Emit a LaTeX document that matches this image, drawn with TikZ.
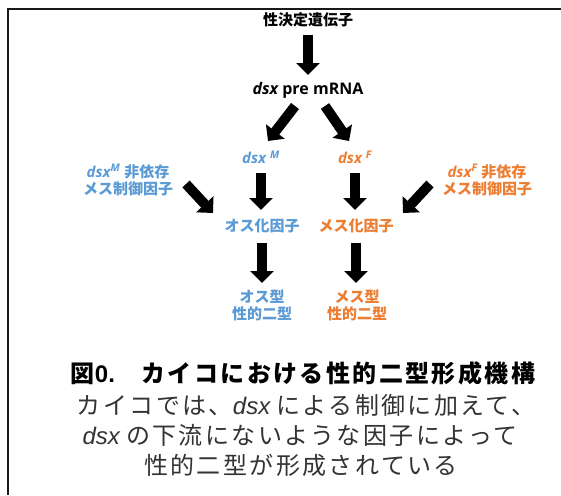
\documentclass[tikz,border=0pt]{standalone}
\usepackage{fontspec}
\usetikzlibrary{arrows.meta}
\setmainfont{Open Sans}
\newfontfamily\jpfont{Noto Sans CJK JP}
\newfontfamily\capfont[LetterSpace=10]{Noto Sans CJK JP}
\newfontfamily\arialfont{Liberation Sans}
\definecolor{mblue}{HTML}{5B9BD5}
\definecolor{forange}{HTML}{ED7D31}
\definecolor{capgray}{HTML}{333333}
\newcommand{\JB}[1]{{\jpfont\bfseries #1}}
\newcommand{\dsxit}{{\bfseries\itshape dsx}}
\newcommand{\CJ}[1]{{\capfont #1}}
\newcommand{\CA}[1]{{\arialfont\itshape #1}}
\tikzset{
  blk/.style={line width=10pt, draw=black, -{Triangle[length=12pt,width=23pt]}},
  lbl/.style={inner sep=0pt, font=\fontsize{15}{17}\selectfont, align=center},
  capline/.style={inner sep=0pt, font=\fontsize{24}{30}\selectfont, text=capgray},
}
\begin{document}
\begin{tikzpicture}[x=1pt,y=-1pt]
\useasboundingbox (0,0) rectangle (561,495);
\fill[white] (0,0) rectangle (561,495);
% frame
\draw[line width=2pt, color=black!90] (561,9.5) -- (7.5,9.5) -- (7.5,495);

% labels
\node[lbl] (top) at (308,20) {\JB{性決定遺伝子}};
\node[lbl, font=\fontsize{16}{18}\selectfont] (pre) at (308,90) {\dsxit\ \bfseries pre mRNA};
\node[lbl, text=mblue] (dm) at (261,157) {\dsxit~\textsuperscript{\bfseries\itshape M}};
\node[lbl, text=forange] (df) at (355,157) {\dsxit~\textsuperscript{\bfseries\itshape F}};
\node[lbl, text=mblue] (lm) at (128,180) {\dsxit\textsuperscript{\bfseries\itshape M} \JB{非依存}\\ \JB{メス制御因子}};
\node[lbl, text=forange] (rf) at (487,180) {\dsxit\textsuperscript{\bfseries\itshape F} \JB{非依存}\\ \JB{メス制御因子}};
\node[lbl, text=mblue] (om) at (262,226) {\JB{オス化因子}};
\node[lbl, text=forange] (mf) at (356,226) {\JB{メス化因子}};
\node[lbl, text=mblue] (os) at (262,305) {\JB{オス型}\\ \JB{性的二型}};
\node[lbl, text=forange] (ms) at (357,305) {\JB{メス型}\\ \JB{性的二型}};

% arrow end points
\coordinate (a1s) at (308,35);  \coordinate (a1e) at (308,75);
\coordinate (a2s) at (295,106); \coordinate (a2e) at (268,141);
\coordinate (a3s) at (325,106); \coordinate (a3e) at (349,141);
\coordinate (a4s) at (186,184); \coordinate (a4e) at (213,213);
\coordinate (a5s) at (430,184); \coordinate (a5e) at (403,213);
\coordinate (a6s) at (261,173); \coordinate (a6e) at (261,210);
\coordinate (a7s) at (355,173); \coordinate (a7e) at (355,210);
\coordinate (a8s) at (262,243); \coordinate (a8e) at (262,283);
\coordinate (a9s) at (356,243); \coordinate (a9e) at (356,283);
\foreach \i in {1,...,9} { \draw[blk] (a\i s) -- (a\i e); }

% caption
\node[capline, text=black] (cap1) at (303,373) {{\capfont\bfseries 図}{\arialfont\bfseries 0.}{\capfont\bfseries 　カイコにおける性的二型形成機構}};
\node[capline] (cap2) at (306,405) {\CJ{カイコでは、}\CA{dsx} \CJ{による制御に加えて、}};
\node[capline] (cap3) at (300,435) {\CA{dsx} \CJ{の下流にないような因子によって}};
\node[capline] (cap4) at (301,465) {\CJ{性的二型が形成されている}};
\end{tikzpicture}
\end{document}
